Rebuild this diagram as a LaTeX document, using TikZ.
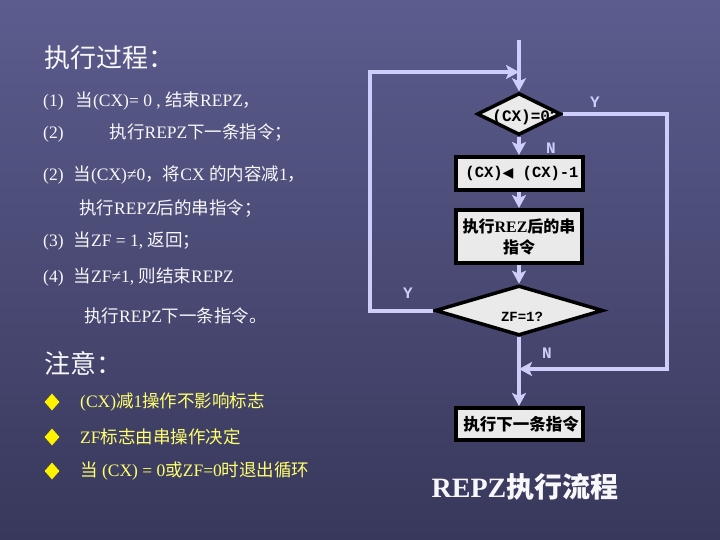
\documentclass[tikz,border=0pt]{standalone}
\usepackage{fontspec}
\setmainfont{Liberation Serif}
\newfontfamily\zh{Noto Sans CJK SC}
\newfontfamily\mono{Liberation Mono}
\newfontfamily\dvs{DejaVu Sans}
\usetikzlibrary{shapes.geometric,arrows.meta}
\definecolor{bgtop}{RGB}{92,92,142}
\definecolor{bgbot}{RGB}{56,56,92}
\definecolor{conncol}{RGB}{206,206,250}
\definecolor{boxfill}{RGB}{234,234,234}
\definecolor{ylw}{RGB}{255,255,110}
\definecolor{wht}{RGB}{248,248,250}
\newcommand\Z[1]{{\zh #1}}
\begin{document}
\begin{tikzpicture}[x=1pt,y=-1pt,
  line/.style={draw=conncol, line width=4pt},
  arr/.style={line, -{Stealth[length=13pt,width=14pt,inset=3pt]}},
  dia/.style={shape=diamond, draw=black, line width=3.5pt, fill=boxfill, inner sep=0pt},
  box/.style={draw=black, line width=4pt, fill=boxfill, inner sep=0pt, align=center, minimum width=127pt},
  yn/.style={text=conncol, font=\mono\bfseries\fontsize{16}{16}\selectfont, inner sep=0pt},
  txt/.style={anchor=west, inner sep=0pt, text=wht, font=\fontsize{17.5}{17.5}\selectfont},
  ytxt/.style={txt, text=ylw},
  head/.style={anchor=west, inner sep=0pt, text=wht, font=\zh\fontsize{26}{26}\selectfont},
  bul/.style={shape=diamond, fill=yellow, inner sep=0pt, minimum width=15pt, minimum height=17pt}
]
\shade[top color=bgtop, bottom color=bgbot] (0,0) rectangle (720,540);
\useasboundingbox (0,0) rectangle (720,540);

% ---------- left text ----------
\node[head] (h1) at (44,58) {执行过程：};
\node[txt] (l1) at (43,101) {(1)\hspace{12pt}\Z{当}(CX)= 0 , \Z{结束}REPZ\Z{，}};
\node[txt] (l2) at (43,133) {(2)\hspace{46pt}\Z{执行}REPZ\Z{下一条指令；}};
\node[txt] (l3) at (43,175) {(2)\hspace{10pt}\Z{当}(CX)≠0\Z{，将}CX \Z{的内容减}1\Z{，}};
\node[txt] (l4) at (79,209) {\Z{执行}REPZ\Z{后的串指令；}};
\node[txt] (l5) at (43,241) {(3)\hspace{10pt}\Z{当}ZF = 1, \Z{返回；}};
\node[txt] (l6) at (43,277) {(4)\hspace{10pt}\Z{当}ZF≠1, \Z{则结束}REPZ};
\node[txt] (l7) at (84,316) {\Z{执行}REPZ\Z{下一条指令。}};

\node[head] (h2) at (44,363) {注意：};
\node[bul] (b1m) at (52,402) {};
\node[bul] (b2m) at (52,437) {};
\node[bul] (b3m) at (52,471) {};
\node[ytxt] (y1) at (80,402) {(CX)\Z{减}1\Z{操作不影响标志}};
\node[ytxt] (y2) at (80,437) {ZF\Z{标志由串操作决定}};
\node[ytxt] (y3) at (80,471) {\Z{当} (CX) = 0\Z{或}ZF=0\Z{时退出循环}};

% ---------- flowchart ----------
\coordinate (top) at (519,40);
\coordinate (m1) at (519,72);
\coordinate (lc) at (370,72);
\coordinate (rc) at (667,369);
\coordinate (m2) at (519,369);

\node[dia, minimum width=84pt, minimum height=42pt,
  path picture={\node at ([xshift=7pt,yshift=-3pt]path picture bounding box.center)
     {\mono\bfseries\fontsize{16}{16}\selectfont (CX)=0?};}] (d1) at (519,114) {};
\node[box, minimum height=33pt, font=\mono\bfseries\fontsize{15.5}{15.5}\selectfont] (bx1) at (519,173.5)
  {\hspace{6pt}(CX){\dvs\fontsize{14}{14}\selectfont ◀} (CX)-1};
\node[box, minimum width=126pt, minimum height=53pt, font=\zh\bfseries\fontsize{16}{21}\selectfont] (bx2) at (519,236.5)
  {执行{\rmfamily\bfseries REZ}后的串\\指令};
\node[dia, minimum width=168pt, minimum height=50pt,
  path picture={\node at ([xshift=3pt,yshift=-6pt]path picture bounding box.center)
     {\mono\bfseries\fontsize{14}{14}\selectfont ZF=1?};}] (d2) at (519,310.5) {};
\node[box, minimum height=32pt, font=\zh\bfseries\fontsize{16.5}{16.5}\selectfont] (bx3) at (519,424)
  {\hspace{4pt}执行下一条指令};

\draw[arr] (top) -- (d1.north);
\draw[arr] (d1.south) -- (bx1.north);
\draw[arr] (bx1.south) -- (bx2.north);
\draw[arr] (bx2.south) -- (d2.north);
\draw[arr] (d2.south) -- (bx3.north);
\draw[arr] (d2.west) -| (lc) -- (m1);
\draw[arr] (d1.east) -| (rc) -- (m2);

\node[yn] (ly1) at (595,102) {Y};
\node[yn] (ln1) at (551,148) {N};
\node[yn] (ly2) at (408,293) {Y};
\node[yn] (ln2) at (547,353) {N};

\node[text=wht, inner sep=0pt, font=\bfseries\fontsize{28}{28}\selectfont] (title) at (525,487)
  {REPZ{\zh 执行流程}};
\end{tikzpicture}
\end{document}
